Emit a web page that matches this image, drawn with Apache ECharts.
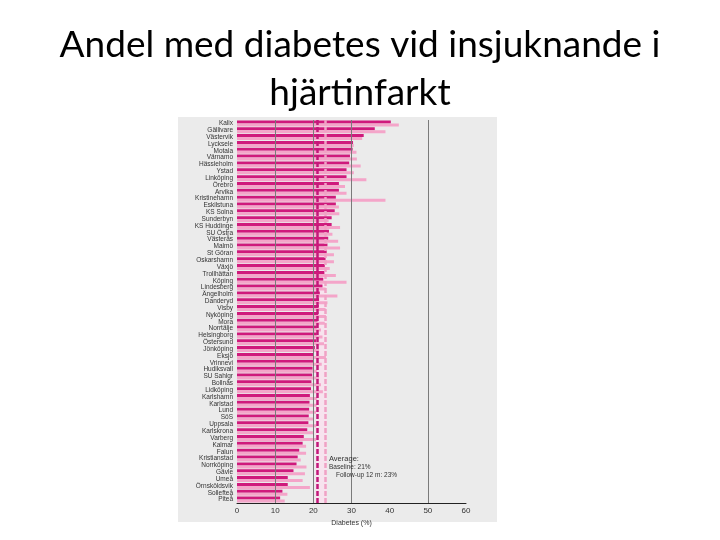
<!DOCTYPE html>
<html>
<head>
<meta charset="utf-8">
<script src="https://cdn.jsdelivr.net/npm/echarts@6/dist/echarts.min.js"></script>
<style>
html,body{margin:0;padding:0;background:#fff;}
#container{width:720px;height:540px;}
</style>
</head>
<body>
<div id="container"></div>
<script>
// sjukhus, sorterade efter andel vid baseline
var hospitals = ['Kalix','Gällivare','Västervik','Lycksele','Motala','Värnamo','Hässleholm','Ystad','Linköping','Örebro',
	'Arvika','Kristinehamn','Eskilstuna','KS Solna','Sunderbyn','KS Huddinge','SU Östra','Västerås','Malmö','St Göran',
	'Oskarshamn','Växjö','Trollhättan','Köping','Lindesberg','Ängelholm','Danderyd','Visby','Nyköping','Mora',
	'Norrtälje','Helsingborg','Östersund','Jönköping','Eksjö','Vrinnevi','Hudiksvall','SU Sahlgr','Bollnäs','Lidköping',
	'Karlshamn','Karlstad','Lund','SöS','Uppsala','Karlskrona','Varberg','Kalmar','Falun','Kristianstad',
	'Norrköping','Gävle','Umeå','Örnsköldsvik','Sollefteå','Piteå'];
var baseline = [40.3,36.1,33.2,30.4,30.3,29.6,29.4,28.7,28.7,26.7,
	26.7,25.9,25.9,25.6,24.8,24.8,24.1,23.9,23.7,23.5,
	23.2,23.0,22.9,22.6,22.4,21.7,21.5,21.4,21.3,21.1,
	20.9,20.9,20.7,20.4,20.1,20.0,19.8,19.7,19.5,19.4,
	19.1,19.0,18.9,18.8,18.7,18.4,17.5,17.2,16.3,15.9,
	15.6,14.8,13.3,13.3,11.9,11.3];
var followUp = [42.4,38.9,32.8,30.6,31.3,31.4,32.4,30.6,33.9,28.3,
	28.7,38.9,26.7,26.8,24.0,27.0,25.0,26.5,27.0,25.4,
	25.4,24.3,25.9,28.7,23.2,26.3,23.7,23.2,23.3,23.0,
	22.0,22.4,22.8,21.5,23.3,22.2,21.0,21.5,22.0,22.5,
	21.0,20.9,20.7,20.0,20.8,20.0,20.7,18.1,18.1,16.7,
	18.2,17.8,17.2,19.1,13.2,12.5];
var xTicks = [0,10,20,30,40,50,60];
var gridValues = [10,20,30,50];
var avgBaseline = 21;
var avgFollowUp = 23;

var myChart = echarts.init(document.getElementById('container'));

myChart.setOption({
	backgroundColor: '#FFFFFF',
	animation: false,
	title: {
		text: 'Andel med diabetes vid insjuknande i\nhjärtinfarkt',
		left: 'center',
		top: 16,
		textStyle: {fontFamily: 'Lato', fontWeight: 'normal', fontSize: 37, lineHeight: 48, color: '#000000'}
	},
	graphic: [
		{type: 'rect', z: -10, silent: true, shape: {x: 178, y: 117, width: 319, height: 405}, style: {fill: '#ebebeb'}},
		{type: 'text', z: 10, left: 329, top: 455, style: {text: 'Average:', font: '7.5px "Liberation Sans"', fill: '#333'}},
		{type: 'text', z: 10, left: 329, top: 464, style: {text: 'Baseline: ' + avgBaseline + '%', font: '6.5px "Liberation Sans"', fill: '#333'}},
		{type: 'text', z: 10, left: 336, top: 472, style: {text: 'Follow-up 12 m: ' + avgFollowUp + '%', font: '6.5px "Liberation Sans"', fill: '#333'}}
	],
	grid: {left: 237, right: 254, top: 120, height: 383},
	xAxis: {
		type: 'value',
		min: xTicks[0],
		max: xTicks[xTicks.length - 1],
		interval: 10,
		name: 'Diabetes (%)',
		nameLocation: 'middle',
		nameGap: 12,
		nameTextStyle: {fontSize: 7, color: '#333', fontFamily: 'Liberation Sans'},
		axisLine: {show: true, lineStyle: {color: '#222', width: 1}},
		axisTick: {show: false},
		splitLine: {show: false},
		axisLabel: {fontSize: 8, color: '#333', margin: 4, fontFamily: 'Liberation Sans'}
	},
	yAxis: {
		type: 'category',
		inverse: true,
		data: hospitals,
		axisLine: {show: false},
		axisTick: {show: false},
		axisLabel: {fontSize: 6.5, color: '#333', margin: 4, fontFamily: 'Liberation Sans', interval: 0}
	},
	series: [
		{
			name: 'grid',
			type: 'line',
			z: 1,
			data: [],
			silent: true,
			markArea: {
				silent: true,
				itemStyle: {color: '#f7e3ee'},
				data: [[{xAxis: avgBaseline - 0.5}, {xAxis: avgFollowUp + 0.6}]]
			},
			markLine: {
				silent: true,
				symbol: 'none',
				label: {show: false},
				lineStyle: {color: '#7a7a7a', width: 1, type: 'solid'},
				data: gridValues.map(function (v) { return {xAxis: v}; })
			}
		},
		{
			name: 'Baseline',
			type: 'bar',
			z: 2,
			barWidth: 3,
			barGap: '0%',
			itemStyle: {color: '#cf1a7c'},
			data: baseline
		},
		{
			name: 'Follow-up 12 m',
			type: 'bar',
			z: 2,
			barWidth: 3,
			barGap: '0%',
			itemStyle: {color: '#f4a5c9'},
			data: followUp
		},
		{
			name: 'avg',
			type: 'line',
			z: 5,
			data: [],
			silent: true,
			markLine: {
				silent: true,
				symbol: 'none',
				label: {show: false},
				data: [
					{xAxis: avgBaseline, lineStyle: {color: '#c2187a', width: 2.5, type: [5, 2]}},
					{xAxis: avgFollowUp, lineStyle: {color: '#f0a2c5', width: 2.5, type: [5, 2]}}
				]
			}
		}
	]
});
</script>
</body>
</html>
